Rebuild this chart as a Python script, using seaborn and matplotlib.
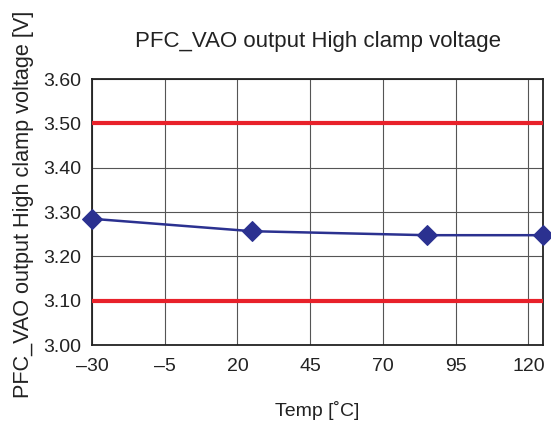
import matplotlib
matplotlib.use("Agg")
import matplotlib.pyplot as plt
import seaborn as sns
import pandas as pd

sns.set_theme(style="white")
plt.rcParams["font.family"] = ["Liberation Sans", "DejaVu Sans"]

# data
temps = [-30, 25, 85, 125]
voltage = [3.285, 3.257, 3.248, 3.248]
limits = [3.50, 3.10]

x_ticks = [-30, -5, 20, 45, 70, 95, 120]
x_labels = ["\u201330", "\u20135", "20", "45", "70", "95", "120"]
y_ticks = [3.00, 3.10, 3.20, 3.30, 3.40, 3.50, 3.60]

df = pd.DataFrame({"Temp": temps, "Voltage": voltage})

fig = plt.figure(figsize=(5.51, 4.23), dpi=100)
ax = fig.add_axes([0.167, 0.184, 0.8185, 0.629])

for lim in limits:
    ax.axhline(lim, color="#e8212a", lw=3, zorder=3)

sns.lineplot(data=df, x="Temp", y="Voltage", ax=ax, color="#2b3190",
             lw=1.8, marker="D", markersize=10.5, markeredgecolor="#2b3190",
             zorder=4, clip_on=False)

ax.set_xlim(-30, 125)
ax.set_ylim(3.0, 3.6)
ax.set_xticks(x_ticks)
ax.set_xticklabels(x_labels)
ax.set_yticks(y_ticks)
ax.set_yticklabels(["{:.2f}".format(v) for v in y_ticks])
ax.grid(True, color="#555555", lw=0.8)
ax.tick_params(length=0, labelsize=14, colors="#222222")
ax.tick_params(axis="y", pad=8)
ax.tick_params(axis="x", pad=9)
for s in ax.spines.values():
    s.set_color("#222222")
    s.set_linewidth(1.3)

ax.set_title("PFC_VAO output High clamp voltage", fontsize=16,
             color="#222222", pad=23)
ax.set_xlabel("Temp [\u02daC]", fontsize=14, color="#222222", labelpad=19)
ax.set_ylabel("PFC_VAO output High clamp voltage [V]", fontsize=15.6,
              color="#222222")
ax.yaxis.set_label_coords(-0.1286, 0.53)

fig.savefig("out.png", dpi=100)
